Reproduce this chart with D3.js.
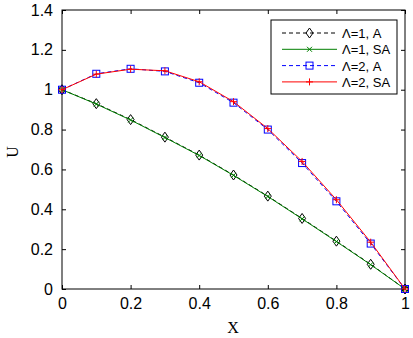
<!DOCTYPE html>
<html><head><meta charset="utf-8">
<script src="https://cdn.jsdelivr.net/npm/d3@7"></script>
<style>body{margin:0;background:#fff}svg{display:block}text{font-family:"Liberation Sans",Arial,sans-serif}</style>
</head><body>
<svg id="c" width="413" height="338"></svg>
<script>
const xs = [0,0.1,0.2,0.3,0.4,0.5,0.6,0.7,0.8,0.9,1];
const l1A  = [1,0.93,0.85,0.762,0.672,0.572,0.466,0.354,0.24,0.124,0];
const l1SA = [1,0.928,0.848,0.76,0.67,0.57,0.464,0.352,0.238,0.122,0];
const l2A  = [1,1.08,1.105,1.092,1.035,0.935,0.8,0.632,0.44,0.228,0];
const l2SA = [1,1.078,1.103,1.095,1.04,0.94,0.805,0.64,0.448,0.235,0];
const xTicks = [0,0.2,0.4,0.6,0.8,1];
const yTicks = [0,0.2,0.4,0.6,0.8,1,1.2,1.4];
const legendLabels = ["\u039B=1, A","\u039B=1, SA","\u039B=2, A","\u039B=2, SA"];

const svg = d3.select("#c");
const L=62,R=405,T=10,B=289;
const x = d3.scaleLinear().domain([0,1]).range([L,R]);
const y = d3.scaleLinear().domain([0,1.4]).range([B,T]);

const series = [
 {v:l1A, color:"#000000", dash:"4,3", marker:"diamond"},
 {v:l1SA, color:"#007f00", dash:null, marker:"x"},
 {v:l2A, color:"#0000ff", dash:"4,3", marker:"square"},
 {v:l2SA, color:"#ff0000", dash:null, marker:"plus"}
];

svg.append("rect").attr("x",L).attr("y",T).attr("width",R-L).attr("height",B-T)
  .attr("fill","none").attr("stroke","#000").attr("stroke-width",1);

const fmt = d => d===0?"0":d===1?"1":d3.format("")(d);
const ax = svg.append("g").attr("transform",`translate(0,${B})`)
  .call(d3.axisBottom(x).tickValues(xTicks).tickSize(-4).tickPadding(9).tickFormat(fmt));
const axT = svg.append("g").attr("transform",`translate(0,${T})`)
  .call(d3.axisTop(x).tickValues(xTicks).tickSize(-4).tickFormat(""));
const ay = svg.append("g").attr("transform",`translate(${L},0)`)
  .call(d3.axisLeft(y).tickValues(yTicks).tickSize(-4).tickPadding(9).tickFormat(fmt));
const ayR = svg.append("g").attr("transform",`translate(${R},0)`)
  .call(d3.axisRight(y).tickValues(yTicks).tickSize(-4).tickFormat(""));
[ax,axT,ay,ayR].forEach(g=>{g.select(".domain").remove();
  g.selectAll("text").attr("font-size",16).attr("fill","#000").style("font-family","Liberation Sans, Arial, sans-serif");});

svg.append("text").attr("x",233).attr("y",333).attr("text-anchor","middle")
  .attr("font-size",16).style("font-family","Liberation Serif, Times New Roman, serif").text("X");
svg.append("text").attr("transform","translate(18,152) rotate(-90)").attr("text-anchor","middle")
  .attr("font-size",16).style("font-family","Liberation Serif, Times New Roman, serif").text("U");

function drawMarker(g, type, cx, cy, color){
  if(type==="diamond"){
    g.append("path").attr("d",`M${cx},${cy-5}L${cx+3.5},${cy}L${cx},${cy+5}L${cx-3.5},${cy}Z`)
      .attr("fill","none").attr("stroke",color).attr("stroke-width",1);
  } else if(type==="square"){
    g.append("rect").attr("x",cx-3.5).attr("y",cy-3.5).attr("width",7).attr("height",7)
      .attr("fill","none").attr("stroke",color).attr("stroke-width",1);
  } else if(type==="x"){
    g.append("path").attr("d",`M${cx-2.5},${cy-2.5}L${cx+2.5},${cy+2.5}M${cx-2.5},${cy+2.5}L${cx+2.5},${cy-2.5}`)
      .attr("stroke",color).attr("stroke-width",1);
  } else if(type==="plus"){
    g.append("path").attr("d",`M${cx-3.5},${cy}L${cx+3.5},${cy}M${cx},${cy-3.5}L${cx},${cy+3.5}`)
      .attr("stroke",color).attr("stroke-width",1);
  }
}

const line = d3.line().x((d,i)=>x(xs[i])).y(d=>y(d));
series.forEach(s=>{
  const g = svg.append("g");
  g.append("path").datum(s.v).attr("d",line).attr("fill","none")
    .attr("stroke",s.color).attr("stroke-width",1).attr("stroke-dasharray",s.dash);
  s.v.forEach((v,i)=>drawMarker(g,s.marker,x(xs[i]),y(v),s.color));
});

const lg = svg.append("g");
lg.append("rect").attr("x",271).attr("y",20).attr("width",126).attr("height",74)
  .attr("fill","#fff").attr("stroke","#000").attr("stroke-width",1);
series.forEach((s,i)=>{
  const yy = 33 + i*16.3;
  lg.append("line").attr("x1",282).attr("x2",337).attr("y1",yy).attr("y2",yy)
    .attr("stroke",s.color).attr("stroke-width",1).attr("stroke-dasharray",s.dash);
  drawMarker(lg,s.marker,309.5,yy,s.color);
  lg.append("text").attr("x",342).attr("y",yy+5).attr("font-size",13).text(legendLabels[i]);
});
</script>
</body></html>
